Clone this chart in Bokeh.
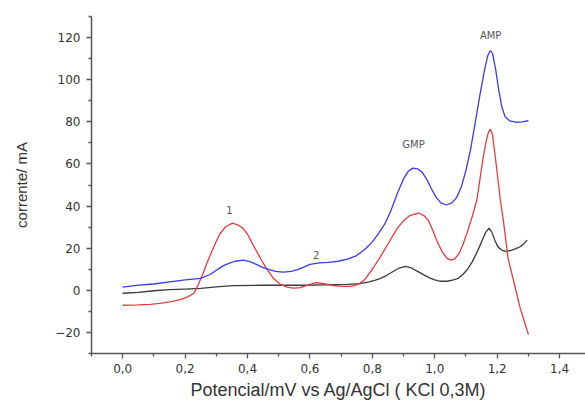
from bokeh.plotting import figure
from bokeh.models import FixedTicker, ColumnDataSource
from bokeh.core.properties import value
from bokeh.embed import file_html
from bokeh.resources import INLINE

# Data
blue_x = [0.00, 0.05, 0.10, 0.15, 0.20, 0.25, 0.28, 0.30, 0.32, 0.34, 0.36, 0.387, 0.41, 0.43, 0.45, 0.47, 0.49, 0.515, 0.54, 0.56, 0.58, 0.60, 0.63, 0.66, 0.69, 0.72, 0.75, 0.78, 0.80, 0.82, 0.84, 0.86, 0.88, 0.90, 0.915, 0.93, 0.945, 0.96, 0.975, 0.99, 1.005, 1.02, 1.037, 1.055, 1.07, 1.085, 1.10, 1.115, 1.13, 1.145, 1.16, 1.17, 1.178, 1.185, 1.195, 1.205, 1.215, 1.225, 1.24, 1.26, 1.28, 1.30]
blue_y = [1.5, 2.5, 3.0, 4.0, 5.0, 5.7, 7.5, 9.5, 11.5, 12.8, 13.8, 14.3, 13.5, 12.2, 10.8, 9.8, 9.0, 8.6, 9.0, 9.8, 11.0, 12.3, 13.0, 13.3, 13.8, 14.8, 16.5, 20.0, 23.0, 27.0, 31.5, 38.0, 46.0, 53.0, 56.5, 58.0, 57.7, 56.0, 52.5, 48.0, 44.0, 41.5, 40.5, 41.5, 44.0, 49.0, 57.0, 67.0, 80.0, 93.0, 105.0, 111.5, 113.8, 112.5, 105.0, 95.0, 87.0, 82.5, 80.5, 79.8, 80.0, 80.5]

red_x = [0.00, 0.05, 0.09, 0.13, 0.16, 0.19, 0.21, 0.228, 0.24, 0.255, 0.27, 0.29, 0.31, 0.33, 0.352, 0.37, 0.385, 0.40, 0.42, 0.442, 0.46, 0.483, 0.505, 0.527, 0.547, 0.57, 0.595, 0.62, 0.645, 0.67, 0.70, 0.73, 0.755, 0.775, 0.80, 0.826, 0.85, 0.88, 0.90, 0.92, 0.948, 0.965, 0.98, 0.995, 1.008, 1.025, 1.04, 1.053, 1.065, 1.078, 1.091, 1.105, 1.12, 1.135, 1.145, 1.155, 1.165, 1.172, 1.178, 1.185, 1.195, 1.203, 1.21, 1.22, 1.235, 1.255, 1.274, 1.30]
red_y = [-7.1, -6.9, -6.7, -6.0, -5.3, -4.2, -3.0, -1.4, 2.0, 7.0, 13.0, 20.0, 26.5, 30.2, 31.9, 31.0, 29.5, 26.6, 21.0, 15.0, 10.5, 5.7, 2.8, 1.5, 1.0, 1.3, 2.6, 3.6, 3.2, 2.4, 1.9, 1.9, 2.8, 5.0, 10.0, 16.0, 22.0, 29.5, 33.0, 35.5, 36.7, 35.5, 33.0, 28.0, 23.0, 18.0, 15.0, 14.3, 15.0, 17.5, 22.0, 28.0, 35.0, 43.0, 53.0, 63.0, 71.0, 75.0, 76.5, 74.0, 62.0, 52.0, 43.0, 33.0, 15.0, 3.0, -8.6, -21.0]

black_x = [0.00, 0.05, 0.10, 0.15, 0.20, 0.25, 0.30, 0.355, 0.45, 0.57, 0.65, 0.72, 0.76, 0.79, 0.81, 0.826, 0.845, 0.865, 0.885, 0.906, 0.925, 0.945, 0.965, 0.985, 1.00, 1.018, 1.04, 1.06, 1.075, 1.09, 1.105, 1.12, 1.135, 1.15, 1.163, 1.174, 1.183, 1.193, 1.203, 1.216, 1.23, 1.245, 1.26, 1.275, 1.288, 1.296]
black_y = [-1.4, -1.0, -0.2, 0.3, 0.6, 0.9, 1.6, 2.2, 2.4, 2.4, 2.6, 2.8, 3.2, 4.0, 4.8, 5.7, 7.0, 8.8, 10.5, 11.4, 10.6, 9.0, 7.3, 5.8, 5.0, 4.3, 4.3, 5.0, 5.7, 7.5, 10.0, 13.5, 18.0, 23.0, 27.5, 29.5, 27.5, 23.5, 20.5, 19.0, 18.5, 19.0, 19.8, 20.8, 22.5, 23.8]

label_text = ["1", "2", "GMP", "AMP"]
label_x = [0.342, 0.62, 0.932, 1.179]
label_y = [38.0, 16.6, 69.3, 121.0]

x_ticks = [0.0, 0.2, 0.4, 0.6, 0.8, 1.0, 1.2, 1.4]
x_tick_labels = ["0,0", "0,2", "0,4", "0,6", "0,8", "1,0", "1,2", "1,4"]
x_minor = [-0.1, 0.1, 0.3, 0.5, 0.7, 0.9, 1.1, 1.3]
y_ticks = [-20, 0, 20, 40, 60, 80, 100, 120]
y_minor = [-30, -10, 10, 30, 50, 70, 90, 110, 130]

p = figure(width=585, height=402, output_backend="svg", toolbar_location=None,
           x_range=(-0.1, 1.483), y_range=(-30, 130),
           min_border_left=91, min_border_right=0, min_border_top=16, min_border_bottom=49)
p.outline_line_color = None
p.xgrid.visible = False
p.ygrid.visible = False
p.background_fill_color = "white"

p.line(black_x, black_y, line_color="#3a3a3a", line_width=1.3)
p.line(red_x, red_y, line_color="#ea3a3e", line_width=1.3)
p.line(blue_x, blue_y, line_color="#3a3ae6", line_width=1.3)

src = ColumnDataSource(dict(x=label_x, y=label_y, t=label_text))
p.text(x="x", y="y", text="t", source=src, text_font=value("DejaVu Sans"),
       text_font_size="10px", text_color="#555555", text_align="center",
       text_baseline="middle")

for ax in (p.xaxis[0], p.yaxis[0]):
    ax.axis_line_color = "#555555"
    ax.axis_line_width = 1.5
    ax.major_tick_line_color = "#555555"
    ax.minor_tick_line_color = "#555555"
    ax.major_tick_line_width = 1.3
    ax.minor_tick_line_width = 1.3
    ax.major_tick_in = 0
    ax.major_tick_out = 5
    ax.minor_tick_in = 0
    ax.minor_tick_out = 3
    ax.major_label_text_font = "DejaVu Sans"
    ax.major_label_text_font_size = "12px"
    ax.major_label_text_font_style = "normal"
    ax.major_label_text_color = "#333333"
    ax.axis_label_text_font = "Liberation Sans"
    ax.axis_label_text_font_style = "normal"
    ax.axis_label_text_color = "#333333"

p.xaxis.ticker = FixedTicker(ticks=x_ticks, minor_ticks=x_minor)
p.xaxis.major_label_overrides = {t: l for t, l in zip(x_ticks, x_tick_labels)}
p.yaxis.ticker = FixedTicker(ticks=y_ticks, minor_ticks=y_minor)
p.xaxis.axis_label = "Potencial/mV vs Ag/AgCl ( KCl 0,3M)"
p.yaxis.axis_label = "corrente/ mA"
p.xaxis.axis_label_text_font_size = "18px"
p.yaxis.axis_label_text_font_size = "15px"
p.xaxis.major_label_standoff = 5
p.yaxis.major_label_standoff = 6
p.xaxis.axis_label_standoff = 4
p.yaxis.axis_label_standoff = 22

open("out.html", "w").write(file_html(p, INLINE))
